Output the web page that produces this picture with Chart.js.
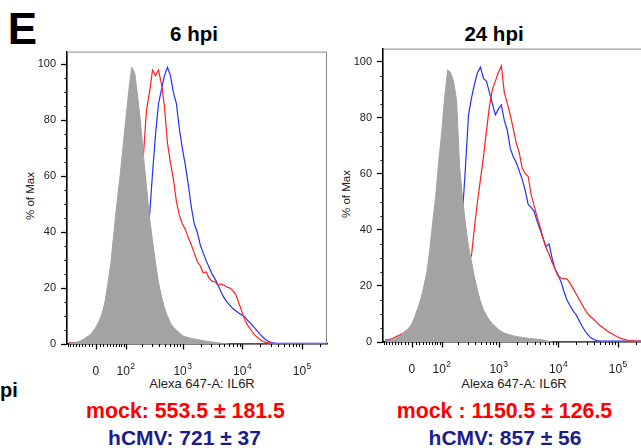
<!DOCTYPE html>
<html><head><meta charset="utf-8">
<script src="https://cdn.jsdelivr.net/npm/chart.js@4.4.1/dist/chart.umd.min.js"></script>
<style>
html,body{margin:0;padding:0;background:#fff;}
body{width:641px;height:448px;overflow:hidden;position:relative;font-family:"Liberation Sans",Arial,Helvetica,sans-serif;}
.t{position:absolute;white-space:nowrap;line-height:1;transform:translate(-50%,-50%);}
.b{font-weight:bold;}
canvas{position:absolute;}
</style></head><body>

<div class="t b" style="left:22.5px;top:28.5px;font-size:44px;color:#000">E</div>
<div class="t b" style="left:194px;top:34px;font-size:20.5px;color:#000">6 hpi</div>
<div class="t b" style="left:494px;top:33.5px;font-size:20.5px;color:#000">24 hpi</div>
<div class="t" style="left:31px;top:196px;font-size:11.5px;color:#222;transform:translate(-50%,-50%) rotate(-90deg)">% of Max</div>
<div class="t" style="left:347px;top:194px;font-size:11.5px;color:#222;transform:translate(-50%,-50%) rotate(-90deg)">% of Max</div>
<div class="t" style="left:202px;top:382.5px;font-size:13px;color:#222">Alexa 647-A: IL6R</div>
<div class="t" style="left:514px;top:382.5px;font-size:13px;color:#222">Alexa 647-A: IL6R</div>
<div class="t b" style="left:0px;top:389.5px;font-size:20px;color:#000;transform:translate(0,-50%)">pi</div>
<div class="t b" style="left:185.5px;top:412px;font-size:21.3px;color:#ff0000">mock: 553.5 ± 181.5</div>
<div class="t b" style="left:184.5px;top:437px;font-size:21px;color:#1c1c8c">hCMV: 721 ± 37</div>
<div class="t b" style="left:504.5px;top:412px;font-size:21.3px;color:#ff0000">mock : 1150.5 ± 126.5</div>
<div class="t b" style="left:505px;top:437px;font-size:21px;color:#1c1c8c">hCMV: 857 ± 56</div>

<canvas id="c6" width="335" height="360" style="left:0px;top:40px;width:335px;height:360px"></canvas>
<canvas id="c24" width="330" height="360" style="left:320px;top:37px;width:330px;height:360px"></canvas>

<script>
// Fluorescence bins (Alexa 647-A intensity) shared by all histograms
const bins = [-86,-74,-63,-52,-43,-33,-25,-16,-8,0,8,16,25,33,43,52,63,74,86,100,114,131,149,168,191,215,243,274,308,347,390,438,492,553,620,697,782,878,985,1106,1241,1393,1563,1754,1968,2208,2477,2780,3119,3500,3927,4406,4944,5547,6224,6983,7835,8791,9864,11068,12418,13934,15634,17541,19682,22084,24778,27801,31192,35000,39270,44062,49438,55468,62237,69832,78351,87913,98644,110677,124180,139335,156338,175413,196819,220836,247779];

// 6 hpi (% of Max)
const control6 = [0,0.2,0.5,0.8,1.2,1.8,2.5,3.2,4.5, 6,8,10.5,15,21,29,39,50,59,69, 80,90,99,97,89,79,67,56,45,37, 29,22,17,13,10,7.5,6,5,4,3, 2.6,2.3,2,1.8,1.6,1.4,1.2,1,0.9,0.7, 0.6,0.4,0.3,0.2,0.1,0,0,0,0,0, 0,0,0,0,0,0,0,0,0,0, 0,0,0,0,0,0,0,0,0,0, 0,0,0,0,0,0,0,0];
const mock6 = [0.3,0.3,0.4,0.5,0.6,0.8,1,1.3,1.7, 2,2.8,3.8,5,6.5,8.5,12,15,19,25, 29,34,40,47,56,63,68,84,90,98, 96,98,93,85,72,65,59,51,46,43, 41,38,35.5,32.5,29.5,28,25.5,25.8,23.5,22.5, 22.2,21,21.5,21,20.3,20,19,17.5,14.5,11.5, 8.5,6.5,5,3.5,2.5,1.6,1,0.6,0.4,0.2, 0.1,0.1,0,0,0,0,0,0,0,0, 0,0,0,0,0,0,0,0];
const hcmv6 = [0.3,0.3,0.3,0.3,0.4,0.4,0.5,0.6,0.8, 1,1.3,1.7,2.2,2.8,3.5,4.5,5.5,7,9, 11,13,15.5,18,21,25,30,36,46,61, 75,86,91,96,99,96,90,86,77,70, 64,57,49,43,40,35.5,32.5,29.8,27.4,25, 23.2,21,18.5,16.5,15,13.8,12.6,11.8,11,10.4, 9.6,8.3,7.3,6,4.8,3.5,2.4,1.5,0.9,0.5, 0.3,0.2,0.2,0.2,0.2,0.2,0.2,0.2,0.2,0.2, 0.2,0.2,0.2,0.2,0.2,0.2,0.2,0.2];

// 24 hpi (% of Max)
const control24 = [0,0.2,0.5,1,1.5,2.2,3,4,5, 6.5,9,12,15.5,19.5,25,32.5,43,52,64, 75,87,97,96,93,86,63,51,42,34, 28.5,23,18.5,14.5,11.5,9.5,7.8,6.5,5.5,4.5, 3.8,3.2,2.8,2.5,2.2,2,1.8,1.6,1.5,1.3, 1.2,1.1,1,0.9,0.7,0.5,0.2,0,0,0, 0,0,0,0,0,0,0,0,0,0, 0,0,0,0,0,0,0,0,0,0, 0,0,0,0,0,0,0,0];
const mock24 = [0.8,0.8,1,1.5,2,2.6,3,3.8,4.4, 5,5.5,6,7,8,9,10,11,12,13, 14,15,16,17,18,19,20,22,25,28, 31,41,50,58,66,75,84,90,93,96, 98.5,89,85,81,76,71,67.5,62,60,59, 52.5,48.5,44.5,41,37,33.5,31.3,28.5,26,23.5, 22.8,22.5,22.5,21,19.2,17.3,15.4,13.5,11.6,10, 8.9,8,7,6,5.2,4.4,3.6,3,2.3,1.8, 1.4,1,0.7,0.5,0.4,0.3,0.3,0.3];
const hcmv24 = [0.3,0.3,0.3,0.4,0.5,0.5,0.6,0.7,0.8, 1,1.3,2,3,4,6,8,11,14,18, 22,27,32,37,41,44,46,46,63,81, 87,92,96,98,94,93,89,85,81,83, 84.5,79,75.5,69,66,64,61,58,54,49, 48,46.5,43,40,37,34,35,30,26,24, 21.5,18,15,13,11.2,9.8,7.8,5.8,4,2.6, 1.5,0.9,0.5,0.3,0.3,0.3,0.3,0.3,0.3,0.3, 0.3,0.3,0.3,0.3,0.3,0.3,0.3,0.3];

// Axis ticks
const xMajorTicks = [0, 100, 1000, 10000, 100000];
const xTickLabels = ['0', '10|2', '10|3', '10|4', '10|5'];
const xMinorTicks = [-90,-80,-70,-60,-50,-40,-30,-20,-10,10,20,30,40,50,60,70,80,90,200,300,400,500,600,700,800,900,2000,3000,4000,5000,6000,7000,8000,9000,20000,30000,40000,50000,60000,70000,80000,90000,200000];
const yTicks = [0, 20, 40, 60, 80, 100];
const yMinorTicks = [5,10,15,25,30,35,45,50,55,65,70,75,85,90,95];
const xRange = [-95, 262144];
const yRange = [0, 104.6];

// biexponential-like display transform (arcsinh)
const COF = 70;
const tf = v => Math.asinh(v / COF) / Math.LN10;
const toXY = ys => bins.map((b, i) => ({ x: tf(b), y: ys[i] }));
const FONT = '"Liberation Sans", Arial, Helvetica, sans-serif';

const axisDeco = {
  id: 'axisDeco',
  afterDraw(chart) {
    const { ctx, chartArea: a, scales: { x, y } } = chart;
    ctx.save();
    ctx.strokeStyle = '#8a8a8a'; ctx.lineWidth = 1;
    ctx.beginPath();
    ctx.moveTo(a.left, a.top + 0.5); ctx.lineTo(a.right - 0.5, a.top + 0.5); ctx.lineTo(a.right - 0.5, a.bottom);
    ctx.stroke();
    ctx.strokeStyle = '#000';
    ctx.lineWidth = 1.3;
    ctx.beginPath();
    xMajorTicks.forEach(v => { const p = Math.round(x.getPixelForValue(tf(v))) + 0.5; ctx.moveTo(p, a.bottom); ctx.lineTo(p, a.bottom + 5.5); });
    ctx.stroke();
    ctx.lineWidth = 1;
    ctx.beginPath();
    xMinorTicks.forEach(v => { const p = Math.round(x.getPixelForValue(tf(v))) + 0.5; ctx.moveTo(p, a.bottom); ctx.lineTo(p, a.bottom + 3); });
    ctx.stroke();
    ctx.beginPath();
    yMinorTicks.forEach(v => { const p = Math.round(y.getPixelForValue(v)) + 0.5; ctx.moveTo(a.left, p); ctx.lineTo(a.left - 2.5, p); });
    ctx.stroke();
    ctx.fillStyle = '#222';
    ctx.textBaseline = 'alphabetic';
    const base = a.bottom + 31;
    xMajorTicks.forEach((v, i) => {
      const p = x.getPixelForValue(tf(v));
      const parts = xTickLabels[i].split('|');
      ctx.font = '12px ' + FONT;
      const w1 = ctx.measureText(parts[0]).width;
      let w2 = 0;
      if (parts[1]) { ctx.font = '8.5px ' + FONT; w2 = ctx.measureText(parts[1]).width + 0.5; }
      const start = p - (w1 + w2) / 2;
      ctx.font = '12px ' + FONT;
      ctx.textAlign = 'left';
      ctx.fillText(parts[0], start, base);
      if (parts[1]) { ctx.font = '8.5px ' + FONT; ctx.fillText(parts[1], start + w1 + 0.5, base - 6.5); }
    });
    ctx.restore();
  }
};

function makeChart(id, yAxisWidth, rightPad, xAxisHeight, control, mock, hcmv) {
  return new Chart(document.getElementById(id), {
    type: 'line',
    data: {
      datasets: [
        { label: 'control', data: toXY(control), fill: 'origin', backgroundColor: '#a3a3a3', borderColor: '#a3a3a3', borderWidth: 1 },
        { label: 'mock', data: toXY(mock), fill: false, borderColor: '#ff1f1f', borderWidth: 1.2 },
        { label: 'hCMV', data: toXY(hcmv), fill: false, borderColor: '#2030ff', borderWidth: 1.2 }
      ]
    },
    options: {
      responsive: false, animation: false, events: [],
      layout: { padding: { top: 9, right: rightPad, left: 0, bottom: 0 } },
      elements: { point: { radius: 0 }, line: { tension: 0 } },
      plugins: { legend: { display: false }, tooltip: { enabled: false }, title: { display: false } },
      scales: {
        x: {
          type: 'linear', min: tf(xRange[0]), max: tf(xRange[1]),
          afterBuildTicks: s => { s.ticks = xMajorTicks.map(v => ({ value: tf(v) })); },
          afterFit: s => { s.height = xAxisHeight; },
          ticks: { display: false },
          grid: { display: false },
          border: { display: true, color: '#000', width: 1.6 }
        },
        y: {
          type: 'linear', min: yRange[0], max: yRange[1],
          afterBuildTicks: s => { s.ticks = yTicks.map(v => ({ value: v })); },
          afterFit: s => { s.width = yAxisWidth; },
          ticks: { color: '#222', font: { size: 11, family: FONT }, padding: 5, callback: v => String(v) },
          grid: { display: true, drawOnChartArea: false, tickLength: 6, tickColor: '#000', tickWidth: 1.3 },
          border: { display: true, color: '#000', width: 1.6 }
        }
      }
    },
    plugins: [axisDeco]
  });
}

makeChart('c6', 67, 8, 56, control6, mock6, hcmv6);
makeChart('c24', 63, 7, 55, control24, mock24, hcmv24);
</script>
</body></html>
